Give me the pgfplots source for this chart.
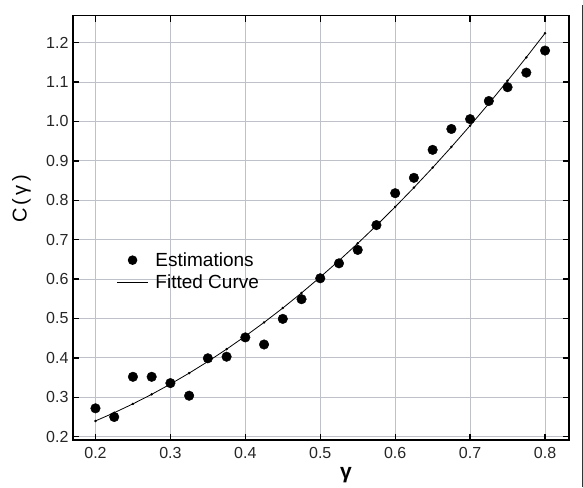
\documentclass[border=0pt]{standalone}
\usepackage{pgfplots}
\pgfplotsset{compat=1.18}
\usepackage{fontspec}
\setmainfont{Liberation Sans}
\definecolor{gridc}{RGB}{190,194,200}
\pgfplotstableread{
x y
0.200 0.272
0.225 0.250
0.250 0.352
0.275 0.352
0.300 0.336
0.325 0.304
0.350 0.399
0.375 0.403
0.400 0.452
0.425 0.434
0.450 0.499
0.475 0.549
0.500 0.602
0.525 0.640
0.550 0.674
0.575 0.737
0.600 0.818
0.625 0.857
0.650 0.928
0.675 0.981
0.700 1.006
0.725 1.052
0.750 1.087
0.775 1.124
0.800 1.180
}\estim
\pgfplotstableread{
x y
0.200 0.2400
0.225 0.2608
0.250 0.2833
0.275 0.3075
0.300 0.3335
0.325 0.3613
0.350 0.3908
0.375 0.4221
0.400 0.4552
0.425 0.4900
0.450 0.5265
0.475 0.5649
0.500 0.6051
0.525 0.6469
0.550 0.6906
0.575 0.7360
0.600 0.7832
0.625 0.8321
0.650 0.8828
0.675 0.9353
0.700 0.9895
0.725 1.0455
0.750 1.1034
0.775 1.1628
0.800 1.2240
}\fitted
\begin{document}
\begin{tikzpicture}
\path[use as bounding box] (-73pt,-47pt) rectangle (510pt,440pt);
\begin{axis}[
  at={(0pt,0pt)}, anchor=south west,
  scale only axis, width=496pt, height=424.3pt,
  xmin=0.17, xmax=0.832, ymin=0.1916, ymax=1.2685,
  xtick={0.2,0.3,0.4,0.5,0.6,0.7,0.8},
  ytick={0.2,0.3,0.4,0.5,0.6,0.7,0.8,0.9,1.0,1.1,1.2},
  grid=major, major grid style={gridc, line width=1pt},
  tick align=inside, major tick length=6pt,
  major tick style={black, line width=1.3pt},
  axis line style={black, line width=1.5pt},
  /pgf/number format/.cd, fixed, fixed zerofill, precision=1, assume math mode=true,
  /pgfplots/.cd,
  tick label style={font=\fontsize{16}{19}\selectfont, text=black!85},
  xticklabel style={yshift=-4pt},
  yticklabel style={xshift=-1pt},
  legend style={draw=none, fill=none, at={(axis cs:0.228,0.673)}, anchor=north west,
    inner sep=0pt, font=\fontsize{19}{22}\selectfont, row sep=3pt},
  legend cell align=left,
]
\addplot[only marks, mark=*, mark size=4.8pt, black,
  legend image code/.code={\path[draw=none,fill=none] (0pt,0pt) -- (31pt,0pt); \fill[black,draw=none] (15.5pt,0pt) circle (4.8pt);}]
  table[x=x,y=y] {\estim};
\addlegendentry{\hspace{5pt}Estimations}
\addplot[black, line width=0.8pt, mark=*, mark size=0.8pt,
  legend image code/.code={\draw[black, line width=0.8pt] (0pt,0pt) -- (31pt,0pt);}]
  table[x=x,y=y] {\fitted};
\addlegendentry{\hspace{5pt}Fitted Curve}
\end{axis}
\node[rotate=90, anchor=center, font=\fontsize{20}{22}\selectfont] at (-51.5pt,241pt) {C\,(\,γ\,)};
\node[anchor=center, font=\fontsize{21}{22}\selectfont\bfseries] at (273pt,-35pt) {γ};
\draw[black!80, line width=0.8pt] (509pt,-47pt) -- (509pt,435pt);
\end{tikzpicture}
\end{document}
